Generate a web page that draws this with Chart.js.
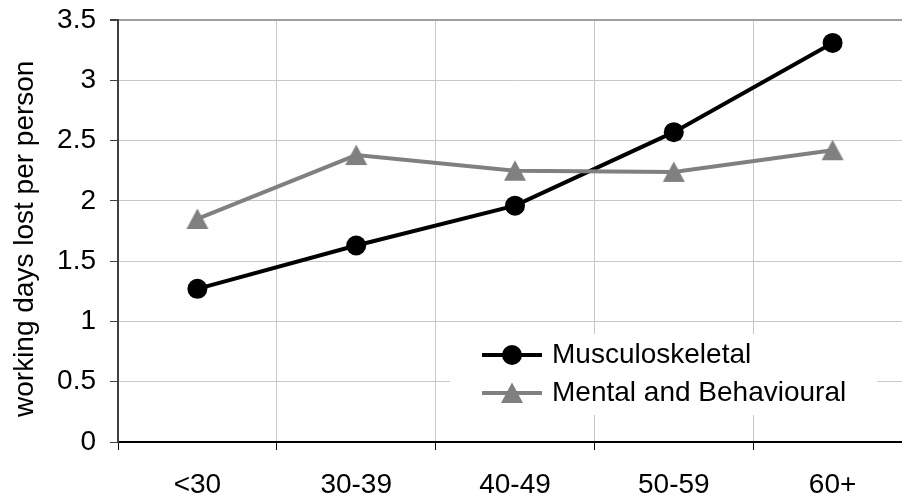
<!DOCTYPE html>
<html>
<head>
<meta charset="utf-8">
<script src="https://cdn.jsdelivr.net/npm/chart.js@4/dist/chart.umd.min.js"></script>
<style>
  html, body { margin: 0; padding: 0; background: #fff; overflow: hidden; }
  #wrap { width: 923px; height: 498px; }
</style>
</head>
<body>
<div id="wrap"><canvas id="chart" width="923" height="498"></canvas></div>
<script>
// datos
const ageGroups = ['<30', '30-39', '40-49', '50-59', '60+'];
const musculoskeletal = [1.27, 1.63, 1.96, 2.57, 3.31];
const mentalBehavioural = [1.85, 2.38, 2.25, 2.24, 2.42];
const seriesNames = ['Musculoskeletal', 'Mental and Behavioural'];
const yTicks = [0, 0.5, 1, 1.5, 2, 2.5, 3, 3.5];
const yTitle = 'working days lost per person  '; // espacios finales: baja el texto un poco

const FONT = '"Liberation Sans", Arial, sans-serif';
Chart.defaults.font.family = FONT;
Chart.defaults.font.size = 28;
Chart.defaults.color = '#000';

// triangulo centrado en su caja, como el marcador de Excel
function makeTriangle(color) {
  const c = document.createElement('canvas');
  c.width = 24; c.height = 22;
  const g = c.getContext('2d');
  g.fillStyle = color;
  g.beginPath();
  g.moveTo(1, 21);
  g.lineTo(12, 0.5);
  g.lineTo(23, 21);
  g.closePath();
  g.fill();
  return c;
}
const triangle = makeTriangle('#808080');

// leyenda dentro del area del grafico
const insideLegend = {
  id: 'insideLegend',
  afterDatasetsDraw(chart) {
    const ctx = chart.ctx;
    ctx.save();
    ctx.fillStyle = '#fff';
    ctx.fillRect(450, 334, 427, 81);
    const rows = [355, 393];
    chart.data.datasets.forEach((ds, i) => {
      const y = rows[i];
      ctx.strokeStyle = ds.borderColor;
      ctx.lineWidth = ds.borderWidth;
      ctx.beginPath();
      ctx.moveTo(482, y);
      ctx.lineTo(542, y);
      ctx.stroke();
      if (ds.pointStyle === 'circle') {
        ctx.fillStyle = ds.pointBackgroundColor;
        ctx.beginPath();
        ctx.arc(512, y, ds.pointRadius, 0, Math.PI * 2);
        ctx.fill();
      } else {
        ctx.drawImage(ds.pointStyle, 512 - ds.pointStyle.width / 2, y - ds.pointStyle.height / 2);
      }
      ctx.fillStyle = '#000';
      ctx.font = '28px ' + FONT;
      ctx.textBaseline = 'middle';
      ctx.textAlign = 'left';
      ctx.fillText(ds.label, 552, y);
    });
    ctx.restore();
  }
};

new Chart(document.getElementById('chart'), {
  type: 'line',
  data: {
    labels: ageGroups,
    datasets: [{
      label: seriesNames[0],
      data: musculoskeletal,
      borderColor: '#000',
      borderWidth: 4,
      pointStyle: 'circle',
      pointRadius: 10,
      pointBorderWidth: 0,
      pointBackgroundColor: '#000',
      order: 1
    }, {
      label: seriesNames[1],
      data: mentalBehavioural,
      borderColor: '#808080',
      borderWidth: 4,
      pointStyle: triangle,
      pointRadius: 11,
      pointBorderWidth: 0,
      pointBackgroundColor: '#808080',
      order: 0
    }]
  },
  options: {
    responsive: false,
    animation: false,
    devicePixelRatio: 1,
    layout: { padding: { top: 20, right: 2, left: 0, bottom: 0 } },
    plugins: {
      legend: { display: false },
      tooltip: { enabled: false }
    },
    scales: {
      x: {
        offset: true,
        grid: {
          offset: true,
          color: '#c8c8c8',
          lineWidth: 1,
          tickColor: '#000',
          tickLength: 8
        },
        border: { color: '#000', width: 2 },
        ticks: { padding: 18, maxRotation: 0, font: { size: 28 } },
        afterFit(scale) {
          scale.height = 56;
          scale.paddingLeft = 0;
          scale.paddingRight = 0;
        }
      },
      y: {
        min: yTicks[0],
        max: yTicks[yTicks.length - 1],
        afterBuildTicks(scale) { scale.ticks = yTicks.map(v => ({ value: v })); },
        grid: {
          color: c => (c.tick && c.tick.value === yTicks[yTicks.length - 1]) ? '#a0a0a0' : '#c8c8c8',
          lineWidth: c => (c.tick && c.tick.value === yTicks[yTicks.length - 1]) ? 2 : 1,
          tickColor: '#404040',
          tickLength: 8
        },
        border: { color: '#404040', width: 2 },
        ticks: {
          padding: 14,
          font: { size: 28 },
          callback: v => String(v)
        },
        title: {
          display: true,
          text: yTitle,
          font: { size: 28 },
          padding: { top: 8, bottom: 0 }
        },
        afterFit(scale) {
          scale.width = 118;
          scale.paddingTop = 0;
          scale.paddingBottom = 0;
        }
      }
    }
  },
  plugins: [insideLegend]
});
</script>
</body>
</html>
